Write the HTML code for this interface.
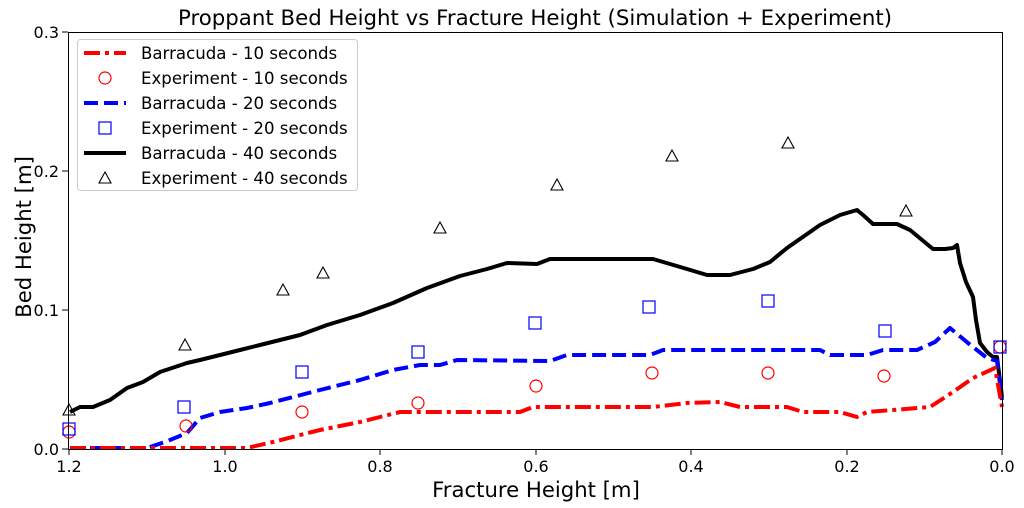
<!DOCTYPE html><html><head><style>body{margin:0;background:#fff}svg{display:block;font-family:"DejaVu Sans","Liberation Sans",sans-serif}</style></head><body>
<svg width="1024" height="508" viewBox="0 0 1024 508">
<text x="535" y="25" font-size="21.3" text-anchor="middle">Proppant Bed Height vs Fracture Height (Simulation + Experiment)</text>
<g fill="none" stroke-linejoin="round">
<polyline stroke="#000" stroke-width="4" points="70,412 80,407 93,407 110,400 127,388 143,382 160,372 175,367 187,363 200,360 220,355 240,350 260,345 280,340 300,335 327,325 360,315 393,303 427,288 460,276 487,269 507,263 537,264 550,259 653,259 670,264 687,269 707,275 730,275 753,269 770,262 787,248 820,225 840,215 857,210 863,215 873,224 897,224 910,230 933,249 945,249 953,248 957,245 960,263 966,282 973,297 976,320 980,343 987,352 993,357 997,357 1002,397"/>
<polyline stroke="#00f" stroke-width="4" stroke-dasharray="14,6" points="70,448 147,448 165,442 187,433 200,418 220,412 247,408 270,403 293,397 320,390 360,380 393,370 420,365 440,365 457,360 550,361 567,355 650,355 663,350 820,350 830,355 867,355 883,350 917,350 935,342 950,328 968,343 987,358 997,361 1002,400"/>
<polyline stroke="#f00" stroke-width="4" stroke-dasharray="16,5,4,5" points="70,448 247,448 273,442 300,435 320,430 360,422 400,412 520,412 533,407 653,407 687,403 720,402 740,407 787,407 803,412 840,412 857,417 867,412 893,410 930,407 953,392 973,378 995,368 1002,407"/>
</g>
<g fill="none" stroke="#f00" stroke-width="1.2">
<circle cx="69" cy="432" r="6"/><circle cx="186" cy="426" r="6"/><circle cx="302" cy="412" r="6"/><circle cx="418" cy="403" r="6"/><circle cx="536" cy="386" r="6"/><circle cx="652" cy="373" r="6"/><circle cx="768" cy="373" r="6"/><circle cx="884" cy="376" r="6"/><circle cx="1000" cy="347" r="6"/>
</g>
<g fill="none" stroke="#00f" stroke-width="1.2">
<rect x="63" y="423" width="12" height="12"/><rect x="178" y="401" width="12" height="12"/><rect x="296" y="366" width="12" height="12"/><rect x="412" y="346" width="12" height="12"/><rect x="529" y="317" width="12" height="12"/><rect x="643" y="301" width="12" height="12"/><rect x="762" y="295" width="12" height="12"/><rect x="879" y="325" width="12" height="12"/><rect x="994" y="341" width="12" height="12"/>
</g>
<g fill="none" stroke="#000" stroke-width="1.1">
<polygon points="69,404 63,415 75,415"/><polygon points="185,339 179,350 191,350"/><polygon points="283,284 277,295 289,295"/><polygon points="323,267 317,278 329,278"/><polygon points="440,222 434,233 446,233"/><polygon points="557,179 551,190 563,190"/><polygon points="672,150 666,161 678,161"/><polygon points="788,137 782,148 794,148"/><polygon points="906,205 900,216 912,216"/>
</g>
<rect x="68.5" y="32.5" width="934" height="417" fill="none" stroke="#000" stroke-width="1"/>
<g stroke="#000"><line x1="69" y1="449" x2="69" y2="455"/><line x1="225" y1="449" x2="225" y2="455"/><line x1="380" y1="449" x2="380" y2="455"/><line x1="536" y1="449" x2="536" y2="455"/><line x1="691" y1="449" x2="691" y2="455"/><line x1="847" y1="449" x2="847" y2="455"/><line x1="1002" y1="449" x2="1002" y2="455"/>
<line x1="62" y1="449" x2="68" y2="449"/><line x1="62" y1="310" x2="68" y2="310"/><line x1="62" y1="171" x2="68" y2="171"/><line x1="62" y1="32" x2="68" y2="32"/></g>
<g font-size="16" text-anchor="middle"><text x="69" y="472">1.2</text><text x="225" y="472">1.0</text><text x="380" y="472">0.8</text><text x="536" y="472">0.6</text><text x="691" y="472">0.4</text><text x="847" y="472">0.2</text><text x="1002" y="472">0.0</text></g>
<g font-size="16" text-anchor="end"><text x="59" y="455">0.0</text><text x="59" y="316">0.1</text><text x="59" y="177">0.2</text><text x="59" y="38">0.3</text></g>
<text x="536" y="497" font-size="21.2" text-anchor="middle">Fracture Height [m]</text>
<text transform="translate(31,237) rotate(-90)" font-size="21.2" text-anchor="middle">Bed Height [m]</text>
<rect x="77.5" y="39.5" width="280" height="151" rx="3" fill="#fff" fill-opacity="0.85" stroke="#ccc"/>
<g font-size="16.6"><text x="141" y="59">Barracuda - 10 seconds</text><text x="141" y="84">Experiment - 10 seconds</text><text x="141" y="109">Barracuda - 20 seconds</text><text x="141" y="134">Experiment - 20 seconds</text><text x="141" y="159">Barracuda - 40 seconds</text><text x="141" y="184">Experiment - 40 seconds</text></g>
<line x1="84" y1="53" x2="126" y2="53" stroke="#f00" stroke-width="4" stroke-dasharray="16,5,4,5"/>
<circle cx="105" cy="78" r="6" fill="none" stroke="#f00" stroke-width="1.2"/>
<line x1="84" y1="103" x2="126" y2="103" stroke="#00f" stroke-width="4" stroke-dasharray="14,6"/>
<rect x="99" y="122" width="12" height="12" fill="none" stroke="#00f" stroke-width="1.2"/>
<line x1="84" y1="153" x2="126" y2="153" stroke="#000" stroke-width="4"/>
<polygon points="105,172 99,183 111,183" fill="none" stroke="#000" stroke-width="1.1"/>
</svg></body></html>
